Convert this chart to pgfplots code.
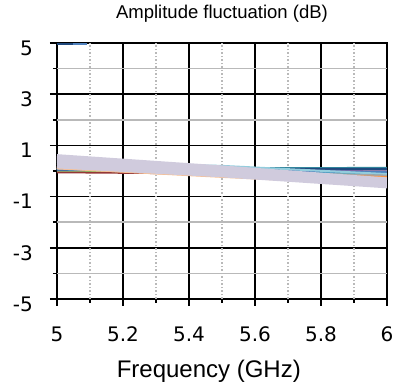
\documentclass[border=0pt]{standalone}
\usepackage{fontspec}
\setmainfont{Liberation Sans}
\newfontfamily\tickfont{DejaVu Sans}
\usepackage{pgfplots}
\pgfplotsset{compat=1.18}
\definecolor{cDarkRed}{HTML}{953735}
\definecolor{cGreen}{HTML}{9BBB59}
\definecolor{cDTeal}{HTML}{31859C}
\definecolor{cDBlue}{HTML}{1F497D}
\definecolor{cPurple}{HTML}{8064A2}
\definecolor{cLBlue}{HTML}{4BACC6}
\definecolor{cBlue}{HTML}{4F81BD}
\definecolor{cGray}{HTML}{A5A5A5}
\definecolor{cOrange}{HTML}{F79646}
\definecolor{cPeach}{HTML}{FAC090}
\definecolor{cPink}{HTML}{E6B9B8}
\definecolor{cLav}{HTML}{D0CBDD}
\definecolor{cCyan}{HTML}{93CDDD}
\begin{document}
\begin{tikzpicture}
\begin{axis}[
  scale only axis, width=330pt, height=256pt,
  xmin=5, xmax=6, ymin=-5, ymax=5,
  xtick={5,5.2,5.4,5.6,5.8,6},
  xticklabels={5,5.2,5.4,5.6,5.8,6},
  ytick={-5,-3,-1,1,3,5},
  yticklabels={-5,-3,-1,1,3,5},
  extra x ticks={5.1,5.3,5.5,5.7,5.9},
  extra x tick labels={},
  extra x tick style={grid=major, major grid style={dotted, gray!55, line width=1.2pt}, major tick length=4pt},
  extra y ticks={-4,-2,0,2,4},
  extra y tick labels={},
  extra y tick style={grid=major, major grid style={gray!55, line width=1.5pt}, major tick length=4pt},
  grid=major,
  major grid style={black, line width=1.5pt},
  axis line style={black, line width=2pt},
  tick style={black, line width=1.5pt},
  major tick length=7pt,
  tick align=outside,
  xtick pos=bottom, ytick pos=left,
  xticklabel style={font=\tickfont\fontsize{20}{20}\selectfont, anchor=base, inner sep=0pt, yshift=-36pt},
  yticklabel style={font=\tickfont\fontsize{20}{20}\selectfont, anchor=east, inner sep=0pt, xshift=-17pt, yshift=-5pt},
  title={Amplitude fluctuation (dB)},
  title style={font=\fontsize{18.5}{18.5}\selectfont, at={(axis description cs:0.5,1)}, anchor=base, yshift=18pt, inner sep=0pt},
  xlabel={Frequency (GHz)},
  xlabel style={font=\fontsize{24}{24}\selectfont, at={(axis description cs:0.46,0)}, anchor=base, yshift=-79pt, inner sep=0pt},
  every axis plot/.append style={line width=2pt, no markers},
]
\coordinate (sw) at (rel axis cs:0,0);
\addplot[cDBlue] coordinates {(5,4.95) (5.05,4.95)};
\addplot[cBlue] coordinates {(5.05,4.95) (5.09,4.95)};
\addplot[cDarkRed] coordinates {(5,-0.05) (5.5,-0.1) (6,-0.15)};
\addplot[cGreen] coordinates {(5,0.02) (5.5,-0.04) (6,-0.1)};
\addplot[cDTeal, line width=3pt] coordinates {(5,0.05) (5.5,0.09) (6,0.1)};
\addplot[cDBlue] coordinates {(5,0.04) (5.5,0.07) (6,0.07)};
\addplot[cPurple] coordinates {(5,0.06) (5.5,0.05) (6,-0.02)};
\addplot[cLBlue, line width=3pt] coordinates {(5,0.08) (5.5,0.05) (6,-0.1)};
\addplot[cBlue] coordinates {(5,0.1) (5.5,0.04) (6,-0.05)};
\addplot[cCyan] coordinates {(5,0.35) (5.5,0.2) (6,-0.12)};
\addplot[cGray] coordinates {(5,0.12) (5.5,-0.02) (6,-0.18)};
\addplot[cOrange] coordinates {(5,0.15) (5.5,-0.05) (6,-0.24)};
\addplot[cPeach, line width=3pt] coordinates {(5,0.2) (5.5,-0.1) (6,-0.3)};
\addplot[cPink] coordinates {(5,0.1) (5.5,-0.2) (6,-0.4)};
\addplot[cPeach, line width=2.5pt] coordinates {(5,0.12) (5.5,-0.22) (6,-0.52)};
\addplot[cLav, line width=4pt] coordinates {(5,0.18) (5.5,-0.17) (6,-0.6)};
\addplot[cLav, line width=4pt] coordinates {(5,0.3) (5.5,-0.1) (6,-0.5)};
\addplot[cLav, line width=4pt] coordinates {(5,0.42) (5.5,0.0) (6,-0.45)};
\addplot[cLav, line width=4pt] coordinates {(5,0.5) (5.5,0.08) (6,-0.38)};
\addplot[cLav, line width=4pt] coordinates {(5,0.58) (5.5,0.14) (6,-0.33)};
\end{axis}
\pgfresetboundingbox
\path (sw) ++(-57pt,-86pt) rectangle ++(397pt,385pt);
\end{tikzpicture}
\end{document}
